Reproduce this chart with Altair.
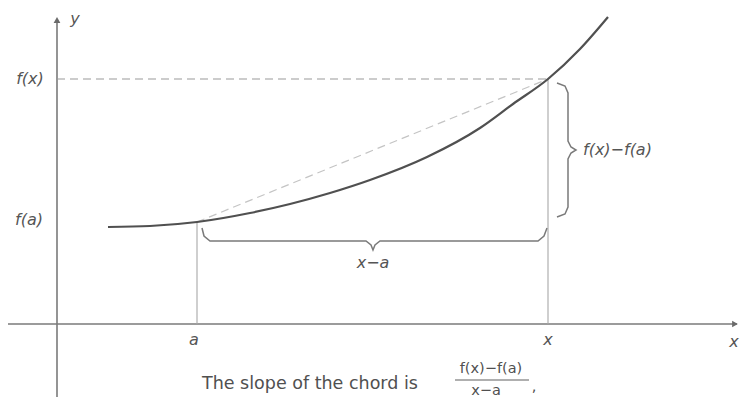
import altair as alt
import pandas as pd

# ---- data (units: 1 = 100 px, origin at axes intersection) ----
curve_x = [0.51, 0.93, 1.40, 1.93, 2.33, 2.73, 3.13, 3.70, 4.23, 4.56, 4.91, 5.23, 5.51]
curve_y = [0.97, 0.98, 1.02, 1.11, 1.20, 1.31, 1.44, 1.67, 1.96, 2.20, 2.45, 2.75, 3.07]

a_val, fa_val = 1.40, 1.02
x_val, fx_val = 4.91, 2.45

hbrace_x = [1.45, 1.47, 1.53, 3.09, 3.14, 3.16, 3.18, 3.23, 4.81, 4.87, 4.90]
hbrace_y = [0.96, 0.88, 0.83, 0.83, 0.79, 0.74, 0.79, 0.83, 0.83, 0.88, 0.96]
vbrace_x = [5.00, 5.08, 5.11, 5.11, 5.14, 5.19, 5.14, 5.11, 5.11, 5.08, 5.00]
vbrace_y = [2.41, 2.38, 2.31, 1.83, 1.77, 1.74, 1.71, 1.65, 1.17, 1.10, 1.07]

italic_labels = ["f(x)", "f(a)", "y", "a", "x", "x", "x\u2212a"]
italic_lx = [-0.27, -0.28, 0.18, 1.37, 4.91, 6.77, 3.16]
italic_ly = [2.45, 1.04, 3.05, -0.16, -0.16, -0.18, 0.61]

caption_text = "The slope of the chord is"
frac_labels = ["f(x)\u2212f(a)", "x\u2212a", ","]
frac_lx = [4.34, 4.29, 4.77]
frac_ly = [-0.445, -0.665, -0.63]

X_DOMAIN = [-0.49, 6.83]
Y_DOMAIN = [-0.76, 3.16]

xs = alt.Scale(domain=X_DOMAIN, nice=False, zero=False)
ys = alt.Scale(domain=Y_DOMAIN, nice=False, zero=False)


def X(field="x"):
    return alt.X(f"{field}:Q", scale=xs, axis=None)


def Y(field="y"):
    return alt.Y(f"{field}:Q", scale=ys, axis=None)


def seg_layer(rows, color, width, dash=None):
    df = pd.DataFrame(rows, columns=["x", "y", "x2", "y2"])
    kw = dict(color=color, strokeWidth=width)
    if dash:
        kw["strokeDash"] = dash
    return alt.Chart(df).mark_rule(**kw).encode(
        x=X(), y=Y(), x2="x2:Q", y2="y2:Q"
    )


axes = seg_layer([[-0.55, 0, 6.80, 0], [0, -0.73, 0, 3.02]], "#7a7a7a", 1.6)
guides = seg_layer([[a_val, 0, a_val, fa_val], [x_val, 0, x_val, fx_val]], "#a8a8a8", 1.1)
hdash = seg_layer([[0, fx_val, x_val, fx_val]], "#9a9a9a", 1.1, [8, 5])
chord = seg_layer([[a_val, fa_val, x_val, fx_val]], "#c4c4c4", 1.2, [8, 5])

curve_df = pd.DataFrame({"x": curve_x, "y": curve_y, "o": range(len(curve_x))})
curve = alt.Chart(curve_df).mark_line(color="#505050", strokeWidth=2.2, interpolate="monotone").encode(
    x=X(), y=Y(), order="o:Q"
)

hb_df = pd.DataFrame({"x": hbrace_x, "y": hbrace_y, "o": range(len(hbrace_x))})
hbrace = alt.Chart(hb_df).mark_line(color="#7a7a7a", strokeWidth=1.5, interpolate="linear").encode(
    x=X(), y=Y(), order="o:Q"
)
vb_df = pd.DataFrame({"x": vbrace_x, "y": vbrace_y, "o": range(len(vbrace_x))})
vbrace = alt.Chart(vb_df).mark_line(color="#7a7a7a", strokeWidth=1.5, interpolate="linear").encode(
    x=X(), y=Y(), order="o:Q"
)

arrows_df = pd.DataFrame({"x": [0, 6.78], "y": [3.04, 0], "shape": ["triangle-up", "triangle-right"]})
arrows = alt.Chart(arrows_df).mark_point(filled=True, size=45, color="#6a6a6a", opacity=1).encode(
    x=X(), y=Y(), shape=alt.Shape("shape:N", scale=None, legend=None)
)

it_df = pd.DataFrame({"x": italic_lx, "y": italic_ly, "t": italic_labels})
it_text = alt.Chart(it_df).mark_text(
    font="DejaVu Sans", fontSize=16, fontStyle="italic", color="#555555", align="center", baseline="middle"
).encode(x=X(), y=Y(), text="t:N")

diff_df = pd.DataFrame({"x": [5.26], "y": [1.74], "t": ["f(x)\u2212f(a)"]})
diff_text = alt.Chart(diff_df).mark_text(
    font="DejaVu Sans", fontSize=16, fontStyle="italic", color="#555555", align="left", baseline="middle"
).encode(x=X(), y=Y(), text="t:N")

cap_df = pd.DataFrame({"x": [1.45], "y": [-0.60], "t": [caption_text]})
caption = alt.Chart(cap_df).mark_text(
    font="DejaVu Sans", fontSize=17.5, color="#505050", align="left", baseline="middle"
).encode(x=X(), y=Y(), text="t:N")

frac_df = pd.DataFrame({"x": frac_lx, "y": frac_ly, "t": frac_labels})
frac = alt.Chart(frac_df).mark_text(
    font="DejaVu Sans", fontSize=14.5, color="#505050", align="center", baseline="middle"
).encode(x=X(), y=Y(), text="t:N")
frac_bar = seg_layer([[3.98, -0.56, 4.72, -0.56]], "#606060", 1.2)

chart = alt.layer(
    axes, guides, hdash, chord, curve, hbrace, vbrace, arrows,
    it_text, diff_text, caption, frac, frac_bar
).properties(
    width=732, height=392, padding=0, autosize="none", background="white"
).configure_view(stroke=None)

chart.save("out.html", embed_options={"renderer": "svg", "actions": False})
